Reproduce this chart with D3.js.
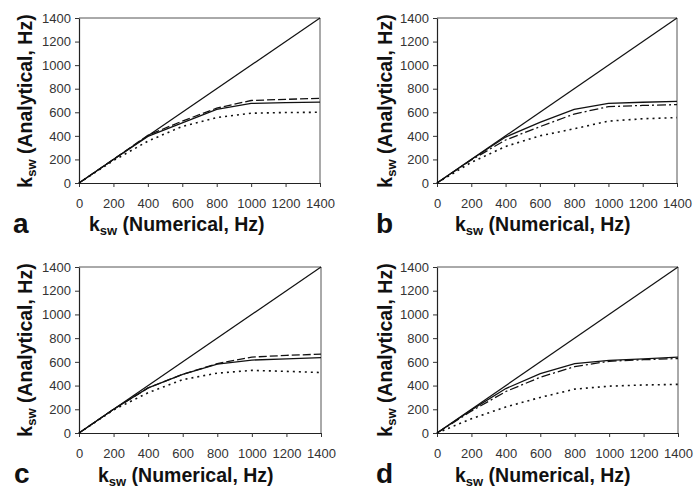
<!DOCTYPE html>
<html><head><meta charset="utf-8">
<script src="https://cdn.jsdelivr.net/npm/d3@7"></script>
<style>
body{margin:0;background:#fff;}
svg{display:block;}
.tick text{font-family:"Liberation Sans",Arial,sans-serif;font-size:13px;fill:#333;}
.lbl{font-family:"Liberation Sans",Arial,sans-serif;font-weight:bold;font-size:19.5px;fill:#111;}
.letter{font-family:"Liberation Sans",Arial,sans-serif;font-weight:bold;font-size:28px;fill:#111;}
</style></head>
<body>
<svg id="chart" width="695" height="496"></svg>
<script>
// ---- data ----
const xValues = [0, 200, 400, 600, 800, 1000, 1200, 1400];
const identityX = [0, 1400];
const tickValues = [0, 200, 400, 600, 800, 1000, 1200, 1400];
const panelLetters = ["a", "b", "c", "d"];

// panel a
const aSolid  = [0, 200, 395, 510, 625, 675, 682, 687];
const aDashed = [0, 200, 405, 525, 635, 700, 710, 718];
const aDotted = [0, 190, 355, 480, 555, 592, 598, 600];
// panel b
const bSolid   = [0, 200, 390, 515, 625, 675, 685, 693];
const bDashDot = [0, 195, 365, 478, 585, 648, 658, 665];
const bDotted  = [0, 175, 310, 400, 460, 525, 545, 555];
// panel c
const cSolid  = [0, 200, 380, 495, 580, 615, 625, 635];
const cDashed = [0, 200, 380, 495, 585, 640, 655, 665];
const cDotted = [0, 195, 340, 450, 505, 528, 520, 510];
// panel d
const dSolid   = [0, 195, 375, 500, 585, 612, 625, 640];
const dDashDot = [0, 185, 350, 470, 560, 605, 618, 628];
const dDotted  = [0, 120, 220, 300, 370, 395, 405, 410];

// ---- layout ----
const panels = [
  {letter: panelLetters[0], x0: 79,  x1: 320, y0: 183, y1: 18,  series: [[aSolid,"solid"],[aDashed,"dashed"],[aDotted,"dotted"]],
   xl:[89,231], yl:[32,101], lt:[13,233]},
  {letter: panelLetters[1], x0: 437, x1: 677, y0: 183, y1: 18,  series: [[bSolid,"solid"],[bDashDot,"dashdot"],[bDotted,"dotted"]],
   xl:[455,231], yl:[392,101], lt:[376,233]},
  {letter: panelLetters[2], x0: 79,  x1: 321, y0: 433, y1: 267, series: [[cSolid,"solid"],[cDashed,"dashed"],[cDotted,"dotted"]],
   xl:[98,482], yl:[32,350], lt:[14,483]},
  {letter: panelLetters[3], x0: 437, x1: 678, y0: 433, y1: 267, series: [[dSolid,"solid"],[dDashDot,"dashdot"],[dDotted,"dotted"]],
   xl:[455,482], yl:[392,350], lt:[376,483]}
];
const dashes = {solid: null, dashed: "8,3", dotted: "2,4", dashdot: "9,3,2,3"};

const svg = d3.select("#chart");
const fmt = d3.format("d");

panels.forEach(p => {
  const x = d3.scaleLinear().domain([0, 1400]).range([p.x0, p.x1]);
  const y = d3.scaleLinear().domain([0, 1400]).range([p.y0, p.y1]);
  const g = svg.append("g");

  // frame top/right
  g.append("line").attr("x1", p.x0).attr("x2", p.x1).attr("y1", p.y1).attr("y2", p.y1)
    .attr("stroke", "#555").attr("stroke-width", 1);
  g.append("line").attr("x1", p.x1).attr("x2", p.x1).attr("y1", p.y1).attr("y2", p.y0)
    .attr("stroke", "#555").attr("stroke-width", 1);

  const xa = g.append("g").attr("transform", `translate(0,${p.y0})`)
    .call(d3.axisBottom(x).tickValues(tickValues).tickFormat(fmt).tickSize(4).tickPadding(12).tickSizeOuter(0));
  const ya = g.append("g").attr("transform", `translate(${p.x0},0)`)
    .call(d3.axisLeft(y).tickValues(tickValues).tickFormat(fmt).tickSize(4).tickPadding(4).tickSizeOuter(0));
  [xa, ya].forEach(a => {
    a.select(".domain").attr("stroke", "#222").attr("stroke-width", 1.2);
    a.selectAll(".tick line").attr("stroke", "#333");
  });

  const line = d3.line().x(d => x(d[0])).y(d => y(d[1]));
  // identity line
  g.append("path").datum(identityX.map(v => [v, v])).attr("d", line)
    .attr("fill", "none").attr("stroke", "#111").attr("stroke-width", 1.2);
  p.series.forEach(([vals, style]) => {
    g.append("path").datum(xValues.map((xv, i) => [xv, vals[i]])).attr("d", line)
      .attr("fill", "none").attr("stroke", "#111").attr("stroke-width", style === "dotted" ? 1.6 : 1.3)
      .attr("stroke-dasharray", dashes[style]);
  });

  // x label
  const xt = g.append("text").attr("class", "lbl").attr("x", p.xl[0]).attr("y", p.xl[1]);
  xt.append("tspan").text("k");
  xt.append("tspan").attr("font-size", "13px").attr("dy", 4).text("sw");
  xt.append("tspan").attr("dy", -4).text(" (Numerical, Hz)");

  // y label
  const yt = g.append("text").attr("class", "lbl").attr("text-anchor", "middle")
    .attr("transform", `translate(${p.yl[0]},${p.yl[1]}) rotate(-90)`);
  yt.append("tspan").text("k");
  yt.append("tspan").attr("font-size", "13px").attr("dy", 4).text("sw");
  yt.append("tspan").attr("dy", -4).text(" (Analytical, Hz)");

  g.append("text").attr("class", "letter").attr("x", p.lt[0]).attr("y", p.lt[1]).text(p.letter);
});
</script>
</body></html>
